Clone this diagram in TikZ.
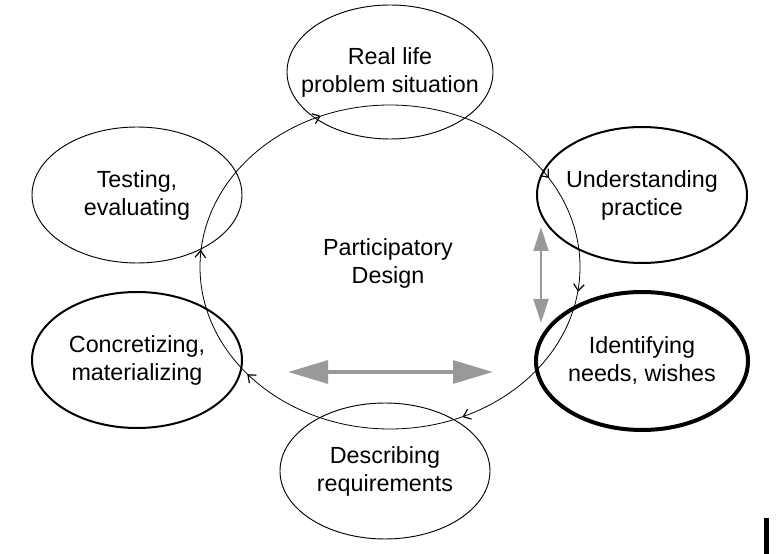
\documentclass[tikz,border=0pt]{standalone}
\usepackage{fontspec}
\setmainfont{Liberation Sans}
\usetikzlibrary{arrows.meta}
\usetikzlibrary{positioning, shapes.geometric, decorations.markings}

\tikzset{
  stage/.style={ellipse, draw, inner sep=0pt, minimum width=157.5pt, minimum height=102pt, line width=0.7pt},
  bold/.style={line width=1.5pt},
  bolder/.style={line width=3pt},
  stagetext/.style={align=center, font=\fontsize{17.5}{21}\selectfont},
  hub/.style={ellipse, draw, inner sep=0pt, minimum width=285pt, minimum height=243pt, line width=0.6pt,
    postaction={decorate, decoration={markings,
      mark=at position 0.094 with {\arrow{<}},
      mark=at position 0.321 with {\arrow{<}},
      mark=at position 0.492 with {\arrow{<}},
      mark=at position 0.616 with {\arrow{<}},
      mark=at position 0.824 with {\arrow{<}},
      mark=at position 0.985 with {\arrow{<}}}}},
  swapbig/.style={draw=gray!80, line width=3pt, {Triangle[length=30pt,width=17pt]}-{Triangle[length=30pt,width=17pt]}},
  swapsmall/.style={draw=gray!80, line width=2.2pt, {Triangle[length=18pt,width=11pt]}-{Triangle[length=18pt,width=11pt]}}
}

\begin{document}
\begin{tikzpicture}[x=0.75pt, y=0.75pt, >={Straight Barb[length=5pt,width=8pt,line width=0.9pt]}]
  \useasboundingbox (0,0) rectangle (776,554);

  % Cycle
  \node[hub] (pd) at (390,287) {};
  \node[stagetext] (pdtext) at (388,291) {Participatory\\Design};

  % Stages
  \node[stage, minimum width=154.5pt, minimum height=100.5pt] (real) at (390,482) {};
  \node[stage, bold]   (under) at (642,359) {};
  \node[stage, bolder, minimum width=159pt, minimum height=103.5pt] (ident) at (642,193) {};
  \node[stage]         (descr) at (385,83) {};
  \node[stage, bold]   (concr) at (137,194) {};
  \node[stage]         (test)  at (137,359) {};

  % Stage labels
  \node[stagetext] at (real)  {Real life\\problem situation};
  \node[stagetext] at (under) {Understanding\\practice};
  \node[stagetext] at (ident) {Identifying\\needs, wishes};
  \node[stagetext] at (descr) {Describing\\requirements};
  \node[stagetext] at (concr) {Concretizing,\\materializing};
  \node[stagetext] at (test)  {Testing,\\evaluating};

  % Gray double arrows
  \coordinate (h1) at (288,182);
  \coordinate (h2) at (493,182);
  \draw[swapbig] (h1) -- (h2);
  \coordinate (v1) at (541,327);
  \coordinate (v2) at (541,231);
  \draw[swapsmall] (v1) -- (v2);

  % Bar at the lower right edge
  \fill (764,0) rectangle (769,36);
\end{tikzpicture}
\end{document}
